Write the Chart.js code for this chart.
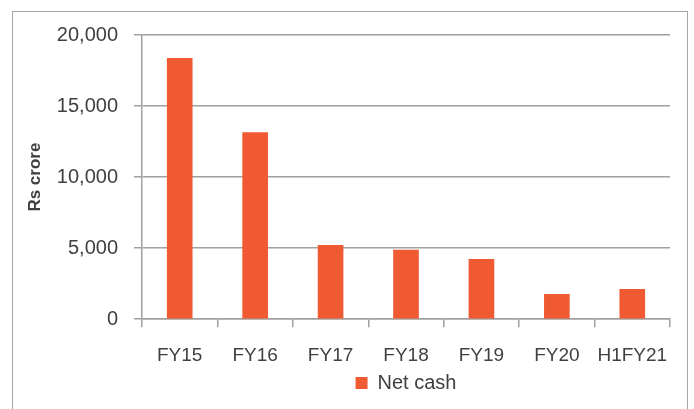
<!DOCTYPE html>
<html>
<head>
<meta charset="utf-8">
<script src="https://cdn.jsdelivr.net/npm/chart.js@4"></script>
<style>
  html, body { margin: 0; padding: 0; background: #fff; }
  #wrap { position: relative; width: 694px; height: 409px; overflow: hidden; }
  #frame { position: absolute; left: 12px; top: 11px; width: 676px; height: 420px; border: 1px solid #a6a6a6; box-sizing: border-box; }
  canvas { position: absolute; left: 0; top: 0; }
</style>
</head>
<body>
<div id="wrap">
  <div id="frame"></div>
  <canvas id="cashChart" width="694" height="409"></canvas>
</div>
<script>
const periods = ['FY15', 'FY16', 'FY17', 'FY18', 'FY19', 'FY20', 'H1FY21'];
const netCash = [18380, 13150, 5230, 4880, 4240, 1770, 2120];
const yTicks = [0, 5000, 10000, 15000, 20000];

const barColor = '#F05A32';
const textColor = '#404040';
const gridColor = '#a0a0a0';
const font = "'Liberation Sans', Arial, sans-serif";

new Chart(document.getElementById('cashChart'), {
    type: 'bar',
    data: {
        labels: periods,
        datasets: [{
            label: 'Net cash',
            data: netCash,
            backgroundColor: barColor,
            borderWidth: 0,
            categoryPercentage: 1,
            barPercentage: 0.34
        }]
    },
    options: {
        responsive: false,
        animation: false,
        layout: { padding: { left: 25, right: 24, top: 35, bottom: 6 } },
        scales: {
            y: {
                min: 0,
                max: 20000,
                afterFit: s => { s.width = 117; },
                afterBuildTicks: s => { s.ticks = yTicks.map(v => ({ value: v })); },
                grid: { color: gridColor, lineWidth: 1.5, tickLength: 8, drawTicks: true },
                border: { color: gridColor, width: 1.5 },
                ticks: {
                    color: textColor,
                    padding: 16,
                    font: { size: 20, family: font },
                    callback: v => v.toLocaleString('en-US')
                },
                title: {
                    display: true,
                    text: 'Rs crore',
                    color: textColor,
                    padding: { top: 0, bottom: 4 },
                    font: { size: 17, weight: 'bold', family: font }
                }
            },
            x: {
                offset: true,
                afterFit: s => { s.height -= 14; },
                grid: { display: true, drawOnChartArea: false, offset: true, color: gridColor, lineWidth: 1.5, tickLength: 8 },
                border: { color: gridColor, width: 1.5 },
                ticks: {
                    color: textColor,
                    padding: 17,
                    autoSkip: false,
                    maxRotation: 0,
                    font: { size: 19, family: font }
                }
            }
        },
        plugins: {
            legend: {
                position: 'bottom',
                fullSize: false,
                labels: {
                    color: textColor,
                    boxWidth: 12,
                    boxHeight: 12,
                    padding: 3,
                    font: { size: 20, family: font }
                }
            },
            tooltip: { enabled: false }
        }
    }
});
</script>
</body>
</html>
